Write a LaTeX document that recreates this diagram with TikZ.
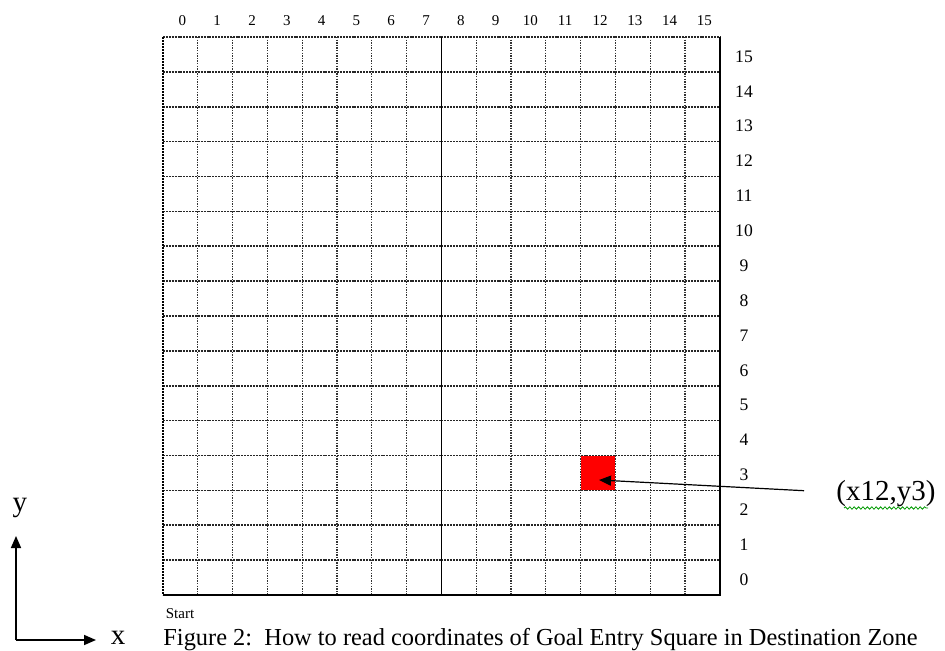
\documentclass[tikz,border=0pt]{standalone}
\usepackage{fontspec}
\setmainfont{Liberation Serif}
\usetikzlibrary{arrows.meta,decorations.pathmorphing}
\begin{document}
\begin{tikzpicture}[x=0.5pt,y=-0.5pt,
  hline/.style={line width=0.8pt,dash pattern=on 1pt off 0.45pt,black!85},
  vline/.style={line width=0.6pt,dash pattern=on 0.7pt off 0.6pt,black!80},
  border/.style={line width=0.8pt,black},
  clab/.style={font=\fontsize{7.5}{9}\selectfont,inner sep=0pt},
  rlab/.style={font=\fontsize{8.8}{10}\selectfont,inner sep=0pt},
  big/.style={font=\fontsize{14.5}{16}\selectfont,inner sep=0pt},
  arr/.style={line width=0.6pt,-{Triangle[length=6pt,width=5pt]}}]
\clip (0,0) rectangle (945,651);
\useasboundingbox (0,0) rectangle (945,651);
\def\gx{163}\def\gy{37}\def\cw{34.8}\def\ch{34.875}
% red square
\fill[red] ({\gx+12*\cw},{595-4*\ch}) rectangle ({\gx+13*\cw},{595-3*\ch});
% grid
\foreach \i in {1,...,15}{
  \draw[hline] (\gx,{\gy+\i*\ch}) -- (720,{\gy+\i*\ch});
}
\draw[hline] (\gx,\gy) -- (720,\gy);
\foreach \i in {1,...,7,9,10,...,15}{
  \draw[vline] ({\gx+\i*\cw},\gy) -- ({\gx+\i*\cw},595);
}
\draw[border] ({\gx+8*\cw},\gy) -- ({\gx+8*\cw},595);
\draw[line width=1.3pt,dash pattern=on 1.2pt off 0.3pt] (\gx,\gy) -- (\gx,595);
\draw[border] (720,\gy) -- (720,595) -- (\gx,595);
% column labels
\foreach \i in {0,...,15}{
  \node[clab] (c\i) at ({\gx+(\i+0.5)*\cw+2},21) {\i};
}
% row labels
\foreach \i in {0,...,15}{
  \node[rlab] (r\i) at (744,{595-(\i+0.5)*\ch+2}) {\i};
}
% annotation
\node[big] (coord) at (886,494) {(x12,y3)};
\draw[green!60!black,line width=0.4pt,decorate,decoration={snake,amplitude=0.6pt,segment length=2.2pt}] (844,508) -- (928,508);
\coordinate (tail) at (804,490.7);
\coordinate (tip) at (599,480);
\draw[arr] (tail) -- (tip);
% start
\node[font=\fontsize{7.5}{9}\selectfont,inner sep=0pt] (start) at (180,614) {Start};
% axes
\coordinate (o) at (16,640);
\coordinate (ytip) at (16,536);
\coordinate (xtip) at (96,640);
\draw[arr,line width=0.8pt] (o) -- (ytip);
\draw[arr,line width=0.8pt] (o) -- (xtip);
\node[big] (ylab) at (20,508) {y};
\node[big] (xlab) at (118,638) {x};
% caption
\node[font=\fontsize{12.2}{14}\selectfont,inner sep=0pt,anchor=base west] (cap) at (163,645) {Figure 2:\ \ How to read coordinates of Goal Entry Square in Destination Zone};
\end{tikzpicture}
\end{document}
